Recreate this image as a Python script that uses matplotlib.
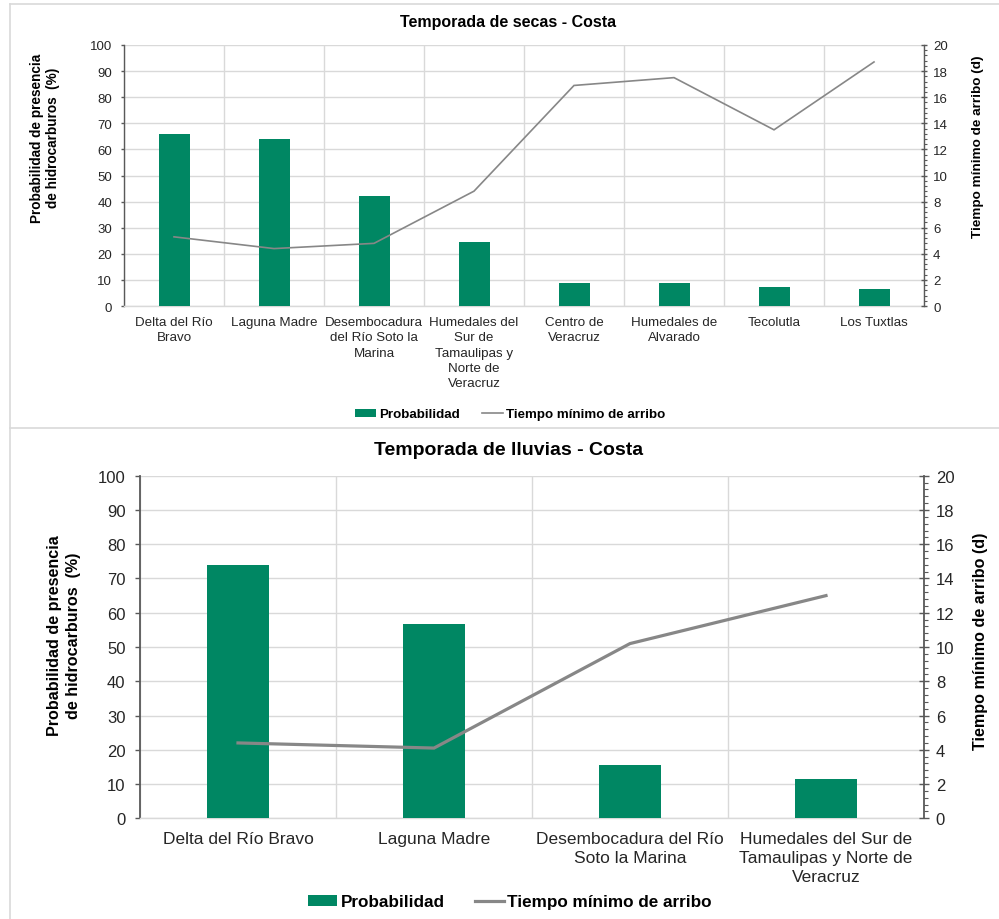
import numpy as np
import matplotlib
matplotlib.use("Agg")
import matplotlib.pyplot as plt
from matplotlib.lines import Line2D
from matplotlib.patches import Patch
from matplotlib.ticker import MultipleLocator

plt.rcParams['font.family'] = ['Liberation Sans', 'DejaVu Sans']

# Dry season (secas) - coast
secas_sitios = ["Delta del Río\nBravo", "Laguna Madre", "Desembocadura\ndel Río Soto la\nMarina",
                "Humedales del\nSur de\nTamaulipas y\nNorte de\nVeracruz", "Centro de\nVeracruz",
                "Humedales de\nAlvarado", "Tecolutla", "Los Tuxtlas"]
secas_probabilidad = [66, 64, 42, 24.4, 8.7, 8.7, 7.2, 6.4]
secas_tiempo = [5.3, 4.4, 4.8, 8.8, 16.9, 17.5, 13.5, 18.7]

# Rainy season (lluvias) - coast
lluvias_sitios = ["Delta del Río Bravo", "Laguna Madre", "Desembocadura del Río\nSoto la Marina",
                  "Humedales del Sur de\nTamaulipas y Norte de\nVeracruz"]
lluvias_probabilidad = [74, 56.6, 15.6, 11.6]
lluvias_tiempo = [4.4, 4.1, 10.2, 13.0]

titulo_secas = "Temporada de secas - Costa"
titulo_lluvias = "Temporada de lluvias - Costa"
etiqueta_izq = "Probabilidad de presencia\nde hidrocarburos  (%)"
etiqueta_der = "Tiempo mínimo de arribo (d)"
leyenda = ["Probabilidad", "Tiempo mínimo de arribo"]

VERDE = "#008763"
GRIS_LINEA = "#878787"
GRID = "#d9d9d9"
EJE = "#595959"
TXT = "#262626"

W, H = 999, 920
fig = plt.figure(figsize=(W / 100, H / 100), dpi=100)


def fx(px):
    return px / W


def fy(py):
    return 1 - py / H


def panel(ax_box, sitios, prob, tiempo, s):
    left, top, right, bottom = ax_box
    ax = fig.add_axes([fx(left), fy(bottom), fx(right - left), (bottom - top) / H])
    n = len(sitios)
    x = np.arange(n)
    ax.bar(x, prob, width=s['bw'], color=VERDE, zorder=3)
    ax.set_xlim(-0.5, n - 0.5)
    ax.set_ylim(0, 100)
    ax.yaxis.set_major_locator(MultipleLocator(10))
    ax.set_xticks(x)
    ax.set_xticklabels(sitios, fontsize=s['cat'], color=TXT, linespacing=s['ls'])
    ax.set_xticks(np.arange(n + 1) - 0.5, minor=True)
    ax.grid(which='minor', axis='x', color=GRID, lw=1, zorder=0)
    ax.grid(which='major', axis='y', color=GRID, lw=1, zorder=0)
    ax.tick_params(axis='x', which='major', direction='in', length=3, color=GRID, pad=s['xpad'])
    ax.tick_params(axis='x', which='minor', length=0)
    ax.tick_params(axis='y', direction='out', length=s['tl'], color=EJE, width=1,
                   labelsize=s['tick'], labelcolor=TXT, pad=s['ypad'])
    for sp in ['top', 'right']:
        ax.spines[sp].set_visible(False)
    ax.spines['left'].set_color(EJE)
    ax.spines['left'].set_linewidth(s['spw'])
    ax.spines['bottom'].set_color(GRID)
    ax.spines['bottom'].set_linewidth(1)
    ax.set_axisbelow(True)

    ax2 = ax.twinx()
    ax2.plot(x, tiempo, color=GRIS_LINEA, lw=s['lw'], zorder=4, solid_joinstyle='miter')
    ax2.set_ylim(0, 20)
    ax2.yaxis.set_major_locator(MultipleLocator(2))
    ax2.yaxis.set_minor_locator(MultipleLocator(0.4))
    ax2.tick_params(axis='y', which='major', direction='inout', length=s['tl'] * 2, color=EJE,
                    width=1, labelsize=s['tick'], labelcolor=TXT, pad=s['ypad'] - 2)
    ax2.tick_params(axis='y', which='minor', direction='out', length=s['tl'] * 0.8, color=EJE, width=0.8)
    for sp in ['top', 'left', 'bottom']:
        ax2.spines[sp].set_visible(False)
    ax2.spines['right'].set_color(EJE)
    ax2.spines['right'].set_linewidth(s['spw'])
    return ax, ax2


estilo_secas = dict(bw=0.31, cat=9.6, ls=1.38, tick=9.5, xpad=7, ypad=6, tl=2.5, spw=1.0, lw=1.2)
estilo_lluvias = dict(bw=0.316, cat=12.5, ls=1.35, tick=12, xpad=9, ypad=7, tl=3.5, spw=1.3, lw=2.3)

panel((124, 46, 924, 307), secas_sitios, secas_probabilidad, secas_tiempo, estilo_secas)
panel((140, 476.7, 924, 819.3), lluvias_sitios, lluvias_probabilidad, lluvias_tiempo, estilo_lluvias)

# titles and axis labels
fig.text(fx(508), fy(22), titulo_secas, fontsize=11.5, fontweight='bold', ha='center', va='center', color='black')
fig.text(fx(509), fy(451), titulo_lluvias, fontsize=14, fontweight='bold', ha='center', va='center', color='black')

fig.text(fx(45), fy(138), etiqueta_izq, rotation=90, fontsize=9.8, fontweight='bold',
         ha='center', va='center', multialignment='center', linespacing=1.25, color='black')
fig.text(fx(977.5), fy(147), etiqueta_der, rotation=90, fontsize=9.7, fontweight='bold',
         ha='center', va='center', color='black')
fig.text(fx(64), fy(636), etiqueta_izq, rotation=90, fontsize=11.6, fontweight='bold',
         ha='center', va='center', multialignment='center', linespacing=1.32, color='black')
fig.text(fx(981), fy(641), etiqueta_der, rotation=90, fontsize=11.6, fontweight='bold',
         ha='center', va='center', color='black')


def leyenda_panel(cy, fs, lw, hl, cs):
    handles = [Patch(facecolor=VERDE, edgecolor='none'),
               Line2D([0], [0], color=GRIS_LINEA, lw=lw)]
    fig.legend(handles, leyenda, loc='center', bbox_to_anchor=(fx(510), fy(cy)), ncol=2,
               frameon=False, prop=dict(size=fs, weight='bold'), handlelength=hl,
               handletextpad=0.2, columnspacing=cs, handleheight=0.55, borderaxespad=0,
               borderpad=0)


leyenda_panel(415.5, 9.6, 1.2, 1.6, 1.7)
leyenda_panel(903, 12.3, 2.3, 1.7, 1.75)

# panel frames
borde = dict(color=GRID, lw=1.2, transform=fig.transFigure)
fig.add_artist(Line2D([fx(9.5), fx(999)], [fy(4.5), fy(4.5)], **borde))
fig.add_artist(Line2D([fx(9.5), fx(9.5)], [fy(4.5), fy(920)], **borde))
fig.add_artist(Line2D([fx(9.5), fx(999)], [fy(428.5), fy(428.5)], **borde))

fig.savefig("out.png", dpi=100, facecolor='white')
